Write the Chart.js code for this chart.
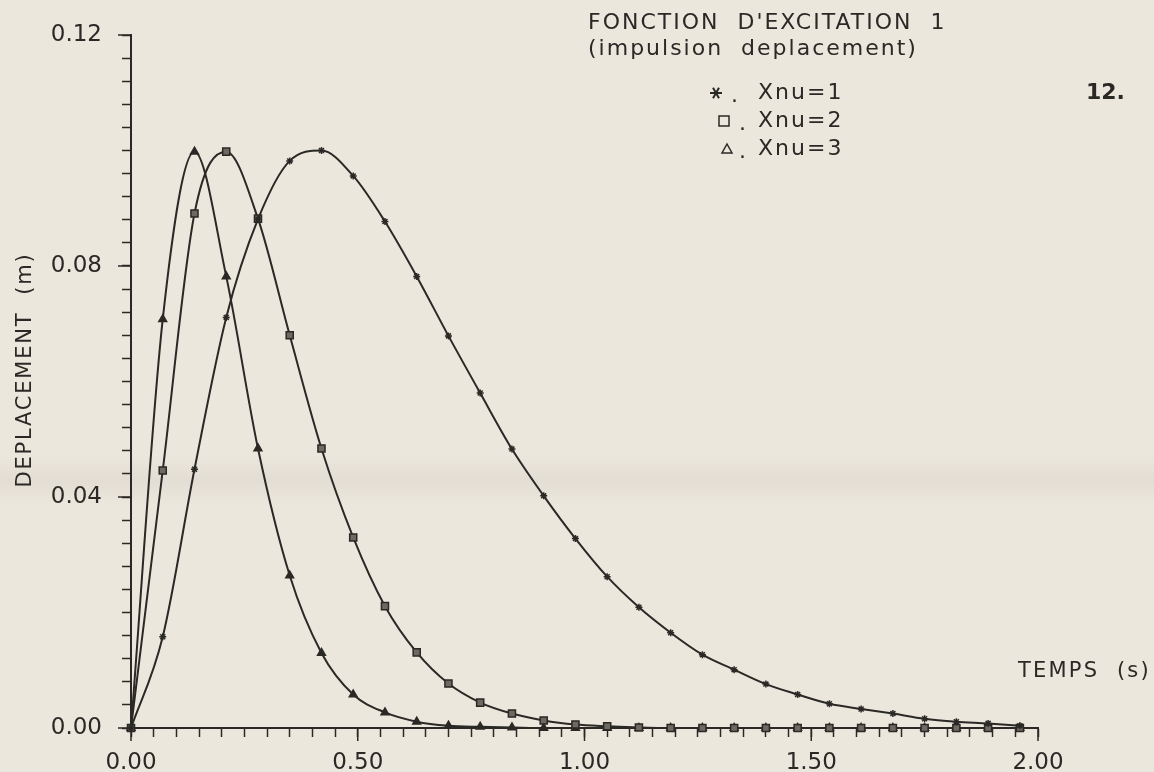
<!DOCTYPE html>
<html>
<head>
<meta charset="utf-8">
<script src="https://cdn.jsdelivr.net/npm/chart.js@4.4.1/dist/chart.umd.min.js"></script>
<style>
  html, body { margin: 0; padding: 0; background: #ece7dd; }
  canvas { display: block; }
</style>
</head>
<body>
<canvas id="grafico" width="1154" height="772"></canvas>
<script>
// tempos (s) onde o traceur colocou os marcadores
const tempos = [0.00, 0.07, 0.14, 0.21, 0.28, 0.35, 0.42, 0.49, 0.56, 0.63,
                0.70, 0.77, 0.84, 0.91, 0.98, 1.05, 1.12, 1.19, 1.26, 1.33,
                1.40, 1.47, 1.54, 1.61, 1.68, 1.75, 1.82, 1.89, 1.96];

// deslocamento (m), uma serie por Xnu
const xnu1 = [0, 0.0158, 0.0448, 0.0711, 0.0881, 0.0982, 0.1000, 0.0956, 0.0877, 0.0782,
              0.0679, 0.0580, 0.0483, 0.0402, 0.0328, 0.0262, 0.0209, 0.0165, 0.0127, 0.0101,
              0.0076, 0.0058, 0.0042, 0.0033, 0.0025, 0.0016, 0.0011, 0.0008, 0.0004];
const xnu2 = [0, 0.0446, 0.0891, 0.0998, 0.0882, 0.0680, 0.0484, 0.0330, 0.0211, 0.0131,
              0.0077, 0.0044, 0.0025, 0.0013, 0.0006, 0.0003, 0.0001, 0, 0, 0,
              0, 0, 0, 0, 0, 0, 0, 0, 0];
const xnu3 = [0, 0.0708, 0.0998, 0.0782, 0.0484, 0.0264, 0.0130, 0.0058, 0.0027, 0.0011,
              0.0004, 0.0002, 0.0001, 0, 0, 0, 0, 0, 0, 0,
              0, 0, 0, 0, 0, 0, 0, 0, 0];

// ticks com numero (os outros sao so tracinho)
const ticksX = [0, 0.5, 1, 1.5, 2];
const ticksY = [0, 0.04, 0.08, 0.12];

const titulo = ["FONCTION  D'EXCITATION  1", "(impulsion  deplacement)"];
const legendas = ['Xnu=1', 'Xnu=2', 'Xnu=3'];
const tituloX = 'TEMPS  (s)';
const tituloY = 'DEPLACEMENT  (m)';

const tinta = '#2b2926';
const papel = '#ece7dd';
const fonte = '"DejaVu Sans", sans-serif';

const pontos = (serie) => tempos.map((t, i) => ({ x: t, y: serie[i] }));
const ehMaior = (lista, v) => lista.some(m => Math.abs(m - v) < 1e-6);

// desenha os simbolos da legenda na mao
const simbolo = (c, tipo, cx, cy) => {
    c.beginPath();
    if (tipo === 'star') {
        for (let a = 0; a < 3; a++) {
            const ang = a * Math.PI / 3;
            c.moveTo(cx - 6 * Math.cos(ang), cy - 6 * Math.sin(ang));
            c.lineTo(cx + 6 * Math.cos(ang), cy + 6 * Math.sin(ang));
        }
        c.lineWidth = 2;
    } else if (tipo === 'rect') {
        c.rect(cx - 5, cy - 5, 10, 10);
        c.lineWidth = 1.5;
    } else {
        c.moveTo(cx, cy - 5);
        c.lineTo(cx + 5, cy + 4);
        c.lineTo(cx - 5, cy + 4);
        c.closePath();
        c.lineWidth = 1.5;
    }
    c.stroke();
};

const decoracao = {
    id: 'decoracao',
    beforeDraw(chart) {
        const c = chart.ctx;
        c.save();
        c.fillStyle = papel;
        c.fillRect(0, 0, chart.width, chart.height);
        // a dobra do papel que aparece no scan (bem fraquinha)
        const g = c.createLinearGradient(0, 455, 0, 505);
        g.addColorStop(0, 'rgba(120,112,100,0)');
        g.addColorStop(0.5, 'rgba(120,112,100,0.08)');
        g.addColorStop(1, 'rgba(120,112,100,0)');
        c.fillStyle = g;
        c.fillRect(0, 455, chart.width, 50);
        c.restore();
    },
    afterDraw(chart) {
        const c = chart.ctx;
        const { x, y } = chart.scales;
        const area = chart.chartArea;
        c.save();
        c.strokeStyle = tinta;
        c.fillStyle = tinta;
        c.lineWidth = 1.5;

        // tracinhos maiores nos valores com numero
        ticksX.forEach(v => {
            const px = x.getPixelForValue(v);
            c.beginPath(); c.moveTo(px, area.bottom); c.lineTo(px, area.bottom + 13); c.stroke();
        });
        ticksY.forEach(v => {
            const py = y.getPixelForValue(v);
            c.beginPath(); c.moveTo(area.left - 13, py); c.lineTo(area.left, py); c.stroke();
        });

        c.textBaseline = 'middle';
        c.font = `22px ${fonte}`;
        c.letterSpacing = '2px';
        c.fillText(titulo[0], 588, 23);
        c.fillText(titulo[1], 588, 49);

        // legenda: simbolo . Xnu=n
        const linhas = [
            { tipo: 'star', sx: 716, dx: 731, y: 93 },
            { tipo: 'rect', sx: 724, dx: 739, y: 121 },
            { tipo: 'tri', sx: 727, dx: 739, y: 149 }
        ];
        linhas.forEach((l, i) => {
            simbolo(c, l.tipo, l.sx, l.y);
            c.fillText('.', l.dx, l.y + 3);
            c.fillText(legendas[i], 758, l.y);
        });

        c.font = `21px ${fonte}`;
        c.letterSpacing = '2.2px';
        c.fillText(tituloX, 1018, 672);

        c.save();
        c.translate(26, 370);
        c.rotate(-Math.PI / 2);
        c.textAlign = 'center';
        c.letterSpacing = '1.8px';
        c.fillText(tituloY, 0, 0);
        c.restore();

        // numero da pagina carimbado
        c.letterSpacing = '0px';
        c.font = `bold 22px ${fonte}`;
        c.fillText('12.', 1086, 93);
        c.restore();
    }
};

const eixo = (passo, maiores) => ({
    border: { color: tinta, width: 2 },
    grid: { drawOnChartArea: false, color: tinta, tickLength: 9, tickWidth: 1.5 },
    ticks: {
        stepSize: passo,
        autoSkip: false,
        maxRotation: 0,
        color: tinta,
        font: { family: fonte, size: 23 },
        callback: (v) => ehMaior(maiores, v) ? Number(v).toFixed(2) : ''
    }
});

const escalaX = eixo(0.05, ticksX);
escalaX.type = 'linear';
escalaX.min = 0;
escalaX.max = 2;
escalaX.ticks.padding = 12;
escalaX.afterFit = (s) => { s.height = 44; };

const escalaY = eixo(0.004, ticksY);
escalaY.min = 0;
escalaY.max = 0.12;
escalaY.ticks.padding = 20;
escalaY.afterFit = (s) => { s.width = 131; };

const serie = (nome, valores, estilo, raio, fundo) => ({
    label: nome,
    data: pontos(valores),
    borderColor: tinta,
    borderWidth: 2,
    pointStyle: estilo,
    pointRadius: raio,
    pointBorderWidth: 1.5,
    pointBorderColor: tinta,
    pointBackgroundColor: fundo,
    cubicInterpolationMode: 'monotone',
    fill: false,
    clip: false
});

const ctx = document.getElementById('grafico').getContext('2d');
window.grafico = new Chart(ctx, {
    type: 'line',
    data: {
        datasets: [
            serie('Xnu=1', xnu1, 'star', 3.5, tinta),
            serie('Xnu=2', xnu2, 'rect', 5, '#6e6a63'),
            serie('Xnu=3', xnu3, 'triangle', 4.5, tinta)
        ]
    },
    options: {
        responsive: false,
        animation: false,
        layout: { padding: { top: 35, right: 116, left: 0, bottom: 0 } },
        plugins: { legend: { display: false }, tooltip: { enabled: false } },
        scales: { x: escalaX, y: escalaY }
    },
    plugins: [decoracao]
});
</script>
</body>
</html>
